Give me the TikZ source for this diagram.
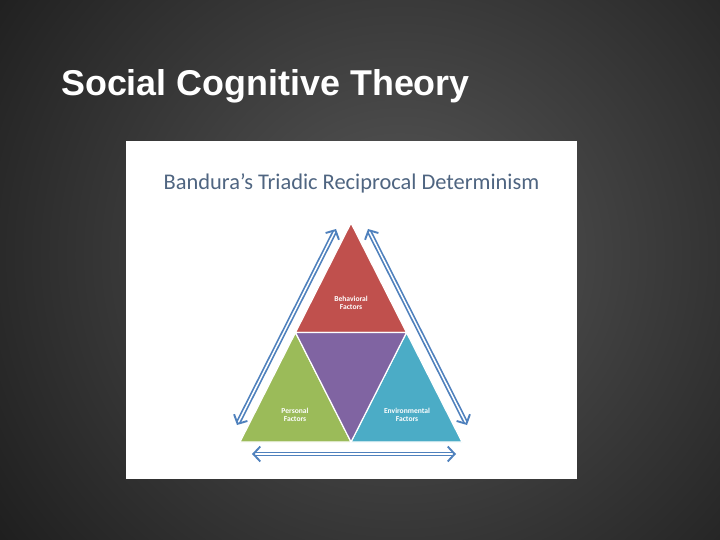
\documentclass[tikz,border=0pt]{standalone}
\usepackage{fontspec}
\setmainfont{Liberation Sans}
\newfontfamily\calfont{Carlito}
\usetikzlibrary{arrows.meta,calc,positioning}

\definecolor{slidedark}{HTML}{1C1C1C}
\definecolor{slidelight}{HTML}{585858}
\definecolor{titleblue}{HTML}{4F6581}
\definecolor{behavred}{HTML}{C0504D}
\definecolor{persgreen}{HTML}{9BBB59}
\definecolor{envblue}{HTML}{4BACC6}
\definecolor{midpurple}{HTML}{8064A2}
\definecolor{arrowblue}{HTML}{4F81BD}

\tikzset{
    piece/.style={draw=white, line width=1.2pt, line join=miter},
    factor/.style={text=white, font=\calfont\bfseries\fontsize{7.6}{8.4}\selectfont, align=center, inner sep=0pt},
    recip/.style={draw=arrowblue, double=white, double distance=1.5pt, line width=1.7pt,
        {Straight Barb[length=7pt, width=15pt, line width=1.9pt]}-{Straight Barb[length=7pt, width=15pt, line width=1.9pt]}}
}

\begin{document}
\begin{tikzpicture}[x=1bp, y=-1bp]
    % slide background
    \useasboundingbox (0, 0) rectangle (720, 540);
    \shade[inner color=slidelight, outer color=slidedark] (-120, -250) rectangle (920, 760);
    \node[anchor=base west, inner sep=0pt, text=white, font=\bfseries\fontsize{36}{40}\selectfont]
        (slidetitle) at (61, 96) {Social Cognitive Theory};

    % picture on the slide
    \fill[white] (126, 141) rectangle (577, 479);
    \node[anchor=base, inner sep=0pt, text=titleblue, font=\calfont\fontsize{22.5}{25}\selectfont]
        (ptitle) at (351.5, 190) {Bandura’s Triadic Reciprocal Determinism};

    % triangle corners
    \coordinate (apex) at (351, 223);
    \coordinate (bl) at (240, 442);
    \coordinate (br) at (462, 442);
    \coordinate (ml) at ($(apex)!0.5!(bl)$);
    \coordinate (mr) at ($(apex)!0.5!(br)$);
    \coordinate (mb) at ($(bl)!0.5!(br)$);

    \filldraw[piece, fill=behavred] (apex) -- (ml) -- (mr) -- cycle;
    \filldraw[piece, fill=persgreen] (ml) -- (bl) -- (mb) -- cycle;
    \filldraw[piece, fill=envblue] (mr) -- (mb) -- (br) -- cycle;
    \filldraw[piece, fill=midpurple] (ml) -- (mr) -- (mb) -- cycle;

    \node[factor] (behav) at (351, 303) {Behavioral\\Factors};
    \node[factor] (pers) at (295, 415) {Personal\\Factors};
    \node[factor] (envir) at (407, 415) {Environmental\\Factors};

    % reciprocal arrows
    \coordinate (la) at (237, 425);
    \coordinate (lb) at (336, 229);
    \coordinate (ra) at (368, 229);
    \coordinate (rb) at (467, 425);
    \coordinate (ba) at (252, 454);
    \coordinate (bb) at (456, 454);
    \draw[recip] (la) -- (lb);
    \draw[recip] (ra) -- (rb);
    \draw[recip] (ba) -- (bb);
\end{tikzpicture}
\end{document}
